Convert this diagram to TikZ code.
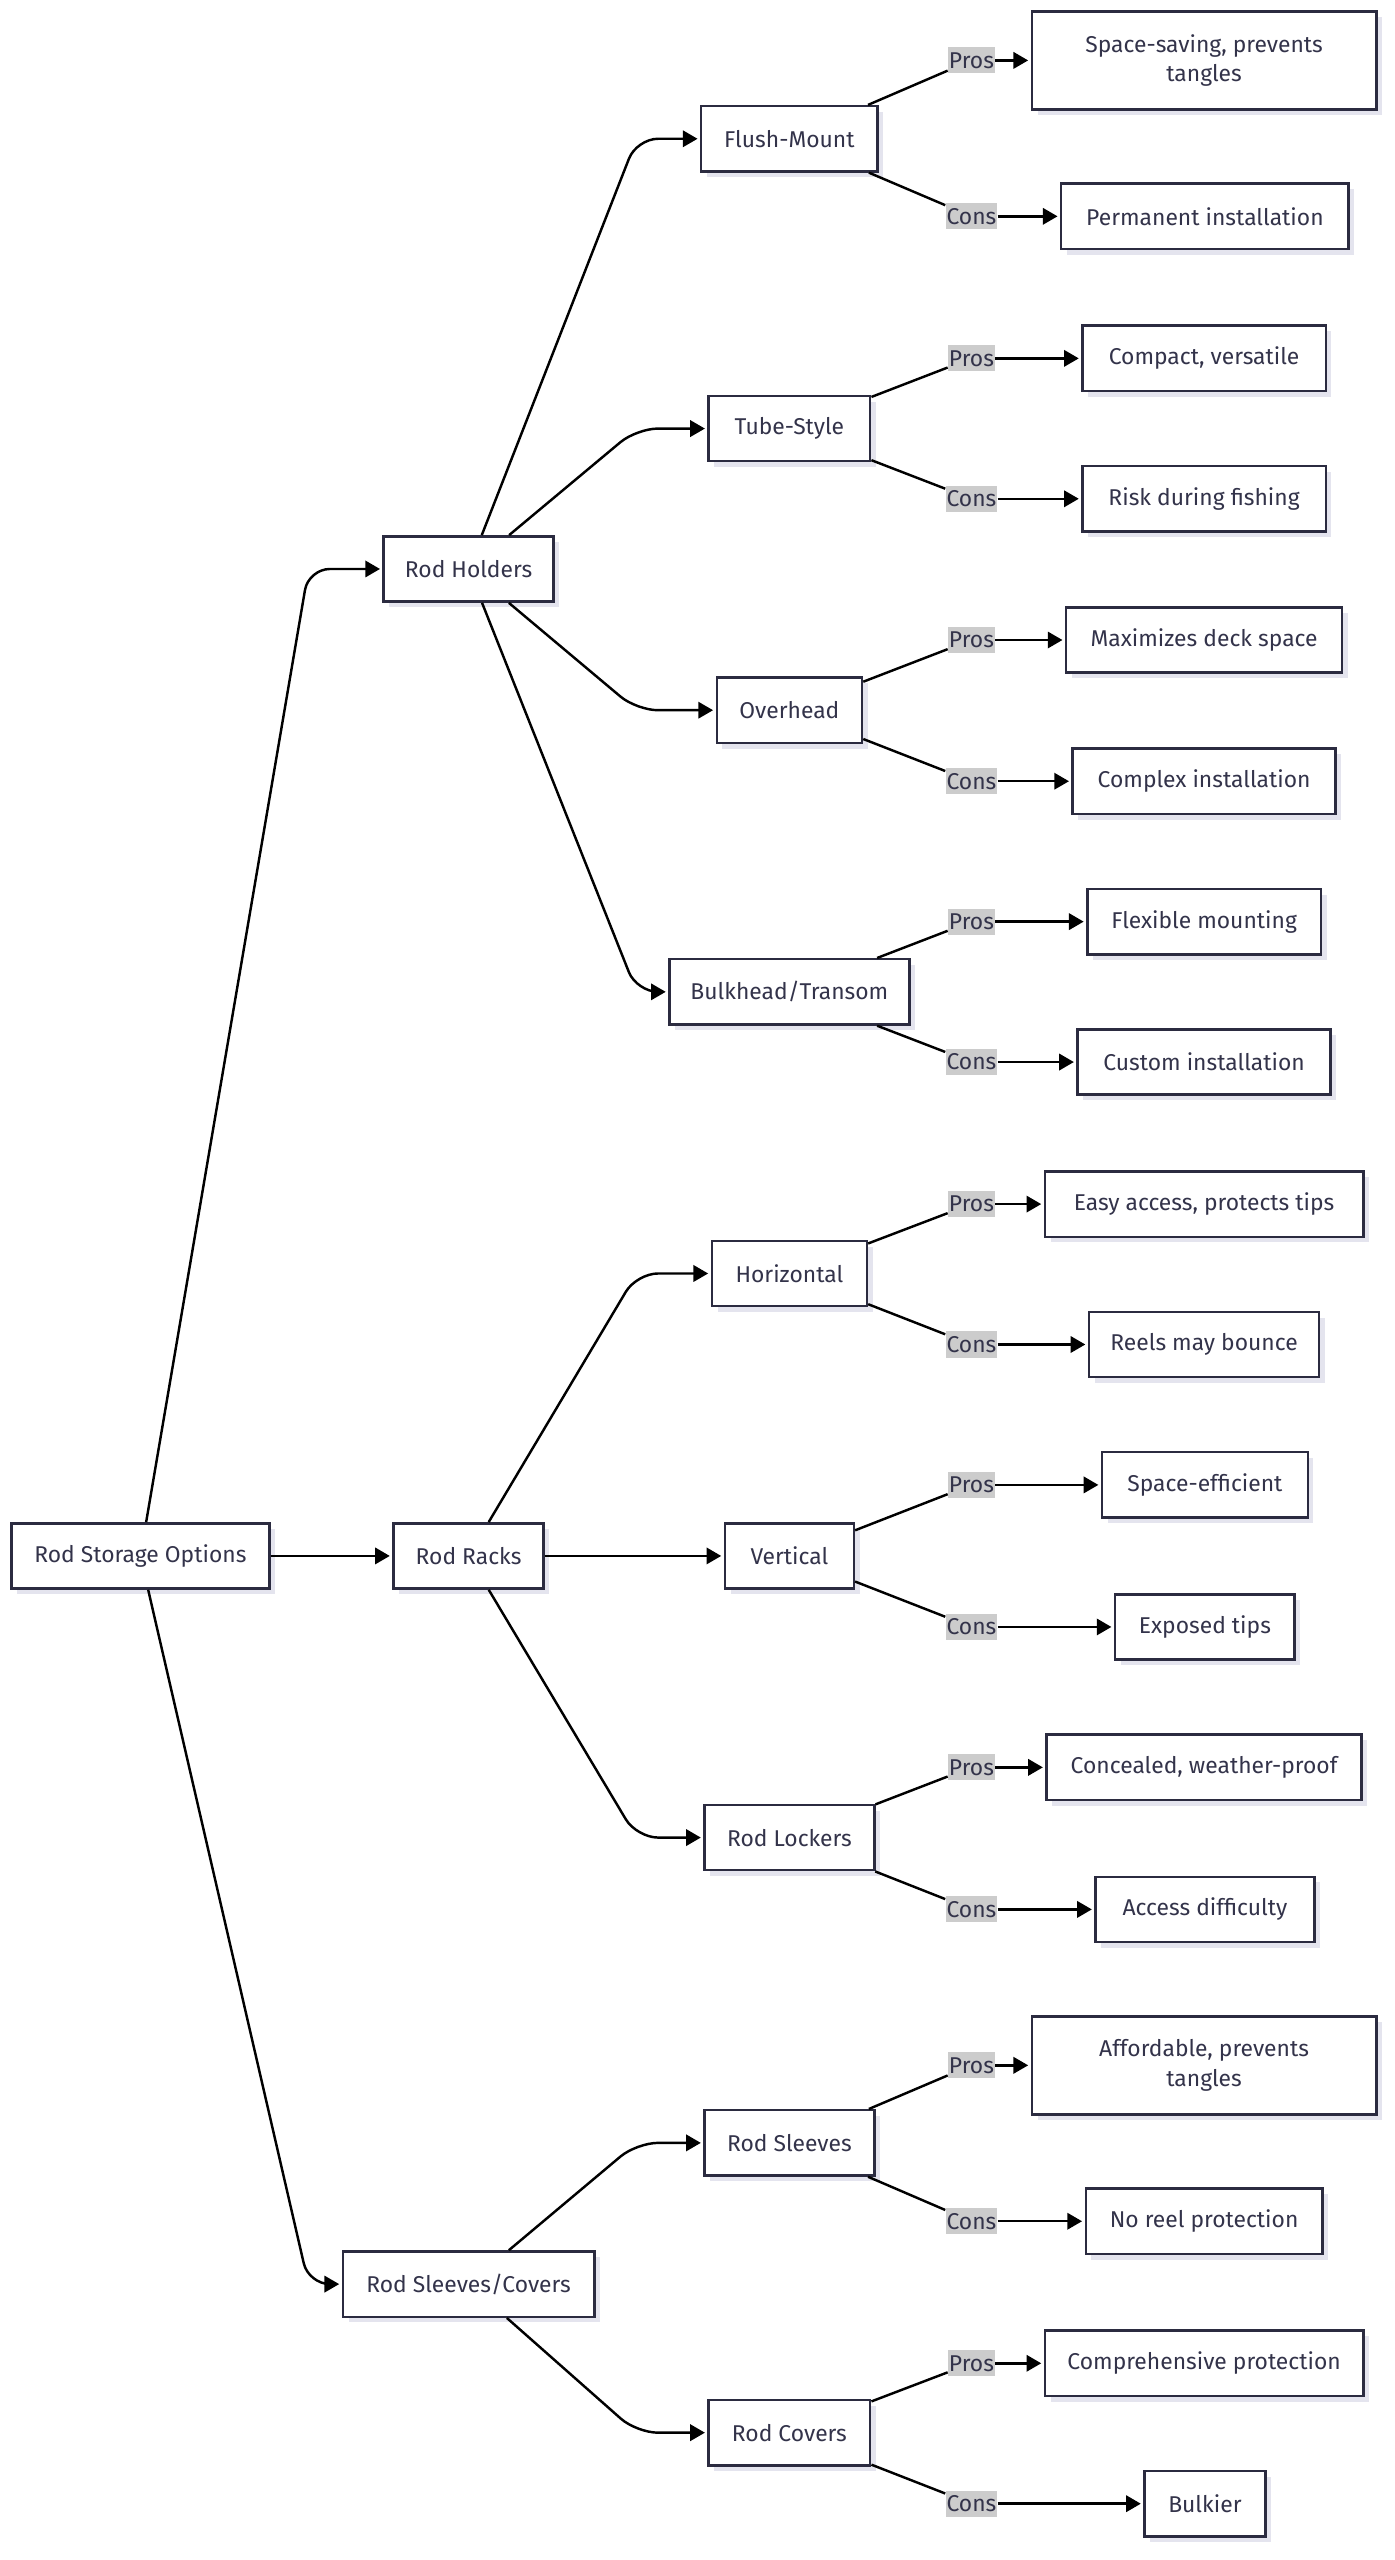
\documentclass[tikz,border=0pt]{standalone}
\usepackage{fontspec}
\setmainfont{Fira Sans}
\usetikzlibrary{arrows.meta,shadows}

\definecolor{boxline}{HTML}{2B2B40}
\definecolor{txt}{HTML}{33334A}
\definecolor{lblbg}{HTML}{CCCCCC}
\definecolor{shad}{HTML}{E4E4EE}

\tikzset{
  box/.style={draw=boxline, line width=1.5pt, fill=white, text=txt,
    font=\fontsize{14}{18}\selectfont, minimum height=40pt, inner xsep=4pt, align=center,
    drop shadow={shadow xshift=3.5pt, shadow yshift=-3.5pt, fill=shad, opacity=1}},
  lbl/.style={fill=lblbg, text=txt, font=\fontsize{14}{16}\selectfont, inner xsep=0.6pt, inner ysep=3pt},
  edge/.style={line width=1.5pt, draw=black},
  arr/.style={edge, -{Triangle[length=9pt,width=10pt]}, shorten >=1.5pt},
  bentarr/.style={arr, rounded corners=13pt},
}

\begin{document}
\begin{tikzpicture}[x=1pt,y=-1pt]
\useasboundingbox (0,0) rectangle (854,1568);

% level 0 and 1
\node[box, minimum width=158pt] (root) at (86,953) {Rod Storage Options};
\node[box, minimum width=104pt] (rh) at (287,348.5) {Rod Holders};
\node[box, minimum width=92pt] (rr) at (287,953) {Rod Racks};
\node[box, minimum width=154pt] (rsc) at (287,1399) {Rod Sleeves/Covers};

% level 2
\node[box, minimum width=108pt] (fm) at (483.5,85) {Flush-Mount};
\node[box, minimum width=99pt] (ts) at (483.5,262.5) {Tube-Style};
\node[box, minimum width=89pt] (oh) at (483.5,435) {Overhead};
\node[box, minimum width=147pt] (bt) at (483.5,607.5) {Bulkhead/Transom};
\node[box, minimum width=95pt] (hz) at (483.5,780) {Horizontal};
\node[box, minimum width=79pt] (vt) at (483.5,953) {Vertical};
\node[box, minimum width=104pt] (rl) at (483.5,1125.5) {Rod Lockers};
\node[box, minimum width=104pt] (rs) at (483.5,1312.5) {Rod Sleeves};
\node[box, minimum width=99pt] (rc) at (483.5,1490) {Rod Covers};

% level 3
\node[box, minimum width=211pt, minimum height=60pt] (fmp) at (737.5,37) {Space-saving, prevents\\tangles};
\node[box, minimum width=176pt] (fmc) at (738,132.5) {Permanent installation};
\node[box, minimum width=149pt] (tsp) at (737.5,219.5) {Compact, versatile};
\node[box, minimum width=149pt] (tsc) at (737.5,305.5) {Risk during fishing};
\node[box, minimum width=169pt] (ohp) at (737.5,392) {Maximizes deck space};
\node[box, minimum width=161pt] (ohc) at (737.5,478.5) {Complex installation};
\node[box, minimum width=143pt] (btp) at (737.5,564.5) {Flexible mounting};
\node[box, minimum width=155pt] (btc) at (737.5,650.5) {Custom installation};
\node[box, minimum width=195pt] (hzp) at (737.5,737.5) {Easy access, protects tips};
\node[box, minimum width=141pt] (hzc) at (737.5,823.5) {Reels may bounce};
\node[box, minimum width=126pt] (vtp) at (738,909.5) {Space-efficient};
\node[box, minimum width=110pt] (vtc) at (738,996.5) {Exposed tips};
\node[box, minimum width=193pt] (rlp) at (737.5,1082.5) {Concealed, weather-proof};
\node[box, minimum width=134pt] (rlc) at (738,1169.5) {Access difficulty};
\node[box, minimum width=211pt, minimum height=60pt] (rsp) at (737.5,1265) {Affordable, prevents\\tangles};
\node[box, minimum width=145pt] (rsc2) at (737.5,1360.5) {No reel protection};
\node[box, minimum width=195pt] (rcp) at (737.5,1447.5) {Comprehensive protection};
\node[box, minimum width=74pt] (rcc) at (738,1533.5) {Bulkier};

% level 0 -> 1
\draw[bentarr] (root) -- (189,348.5) -- (rh);
\draw[arr] (root) -- (rr);
\draw[bentarr] (root) -- (189,1399) -- (rsc);

% level 1 -> 2
\draw[bentarr] (rh) -- (390,85) -- (fm);
\draw[bentarr] (rh) -- (390,262.5) -- (ts);
\draw[bentarr] (rh) -- (390,435) -- (oh);
\draw[bentarr] (rh) -- (390,607.5) -- (bt);
\draw[bentarr] (rr) -- (390,780) -- (hz);
\draw[arr] (rr) -- (vt);
\draw[bentarr] (rr) -- (390,1125.5) -- (rl);
\draw[bentarr] (rsc) -- (390,1312.5) -- (rs);
\draw[bentarr] (rsc) -- (390,1490) -- (rc);

% level 2 -> 3 with labels
\foreach \src/\tp/\tc/\yp/\yc in {fm/fmp/fmc/37/132.5, ts/tsp/tsc/219.5/305.5,
    oh/ohp/ohc/392/478.5, bt/btp/btc/564.5/650.5, hz/hzp/hzc/737.5/823.5,
    vt/vtp/vtc/909.5/996.5, rl/rlp/rlc/1082.5/1169.5, rs/rsp/rsc2/1265/1360.5,
    rc/rcp/rcc/1447.5/1533.5}{
  \node[lbl] (\src-P) at (595,\yp) {Pros};
  \node[lbl] (\src-C) at (595,\yc) {Cons};
  \draw[edge] (\src) -- (\src-P);
  \draw[edge] (\src) -- (\src-C);
  \draw[arr] (\src-P) -- (\tp);
  \draw[arr] (\src-C) -- (\tc);
}
\end{tikzpicture}
\end{document}
